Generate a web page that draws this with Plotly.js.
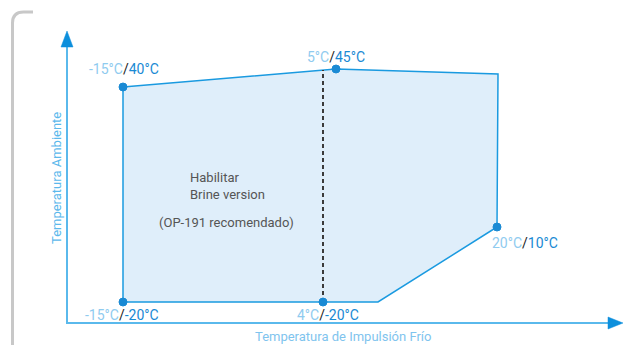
<!DOCTYPE html>
<html>
<head>
<meta charset="utf-8">
<script src="https://cdn.plot.ly/plotly-3.0.1.min.js"></script>
<style>html,body{margin:0;padding:0;background:#fff;}#chart{width:623px;height:345px;}</style>
</head>
<body>
<div id="chart"></div>
<script>
// Envelope outline in chart units (origin at the axes' crossing, schematic scale)
const outlineX = [56, 269, 431, 430, 311, 256, 56, 56];
const outlineY = [236, 254, 249, 96, 21, 21, 21, 236];
// Labelled operating points
const pointX = [56, 269, 430, 256, 56];
const pointY = [236, 254, 96, 21, 21];
const supplyTemp  = ['-15°C', '5°C', '20°C', '4°C', '-15°C'];
const ambientTemp = ['40°C', '45°C', '10°C', '-20°C', '-20°C'];
// Brine boundary (dashed)
const brineX = [256, 256];
const brineY = [21, 253];
const noteLines = ['Habilitar', 'Brine version'];
const noteRec = '(OP-191 recomendado)';
const xTitle = 'Temperatura de Impulsión Frío';
const yTitle = 'Temperatura Ambiente';

const LIGHT = '#8fcbef', DARK = '#222', MID = '#1a8ad4';
const FONT = 'Roboto, Arial, sans-serif';

const traces = [
  {x: outlineX, y: outlineY, mode: 'lines', fill: 'toself', fillcolor: '#dfeefa',
   line: {color: '#1a9ae0', width: 1.5}, hoverinfo: 'skip', cliponaxis: false},
  {x: brineX, y: brineY, mode: 'lines', line: {color: '#3a3a3a', width: 2, dash: '4px,3px'},
   hoverinfo: 'skip'},
  {x: pointX, y: pointY, mode: 'markers', marker: {size: 8, color: '#1a8ad4',
   line: {color: '#1a8ad4', width: 1}}, hoverinfo: 'skip', cliponaxis: false}
];

const offsets = [
  {xanchor: 'center', xshift: 0.5, yshift: 18},
  {xanchor: 'center', xshift: 0, yshift: 12},
  {xanchor: 'left', xshift: -7, yshift: -16},
  {xanchor: 'center', xshift: 4.5, yshift: -13},
  {xanchor: 'center', xshift: -1.5, yshift: -13}
];

const annotations = pointX.map((px, i) => ({
  x: px, y: pointY[i], xref: 'x', yref: 'y', showarrow: false,
  text: `<span style="color:${LIGHT}">${supplyTemp[i]}</span><span style="color:${DARK}">/</span><span style="color:${MID}">${ambientTemp[i]}</span>`,
  font: {family: FONT, size: 14}, yanchor: 'middle',
  xanchor: offsets[i].xanchor, xshift: offsets[i].xshift, yshift: offsets[i].yshift
}));

annotations.push(
  {x: 121, y: 137.5, xref: 'x', yref: 'y', showarrow: false, xanchor: 'left', yanchor: 'middle',
   align: 'left', text: noteLines.join('<br>'), font: {family: FONT, size: 13, color: '#555'}},
  {x: 159.5, y: 101, xref: 'x', yref: 'y', showarrow: false, xanchor: 'center', yanchor: 'middle',
   text: noteRec, font: {family: FONT, size: 13, color: '#555'}},
  {x: 275.5, y: -13.5, xref: 'x', yref: 'y', showarrow: false, xanchor: 'center', yanchor: 'middle',
   text: xTitle, font: {family: FONT, size: 13, color: '#7fc4ee'}},
  {x: -11, y: 145, xref: 'x', yref: 'y', showarrow: false, xanchor: 'center', yanchor: 'middle',
   textangle: -90, text: yTitle, font: {family: FONT, size: 13, color: '#5bb8ec'}}
);

const shapes = [
  // grey frame with rounded corner
  {type: 'path', xref: 'x', yref: 'y', path: 'M -54.5 -30 L -54.5 300 Q -54.5 311 -43.5 311 L -34 311',
   line: {color: '#c8c8c8', width: 3}},
  // axes
  {type: 'line', xref: 'x', yref: 'y', x0: 0, y0: 0, x1: 0, y1: 280, line: {color: '#5ab9ec', width: 2}},
  {type: 'line', xref: 'x', yref: 'y', x0: -1, y0: 0, x1: 545, y1: 0, line: {color: '#5ab9ec', width: 2}},
  {type: 'path', xref: 'x', yref: 'y', path: 'M -6 276 L 6 276 L 0 292 Z',
   fillcolor: '#0d8fdc', line: {color: '#0d8fdc', width: 0.5}},
  {type: 'path', xref: 'x', yref: 'y', path: 'M 541 -6 L 541 6 L 556 0 Z',
   fillcolor: '#0d8fdc', line: {color: '#0d8fdc', width: 0.5}}
];

const layout = {
  width: 623, height: 345,
  margin: {l: 0, r: 0, t: 0, b: 0},
  paper_bgcolor: '#fff', plot_bgcolor: '#fff',
  showlegend: false,
  xaxis: {range: [-67, 556], visible: false, fixedrange: true},
  yaxis: {range: [-22, 323], visible: false, fixedrange: true},
  shapes: shapes,
  annotations: annotations
};

Plotly.newPlot('chart', traces, layout, {displayModeBar: false, staticPlot: true});
</script>
</body>
</html>
